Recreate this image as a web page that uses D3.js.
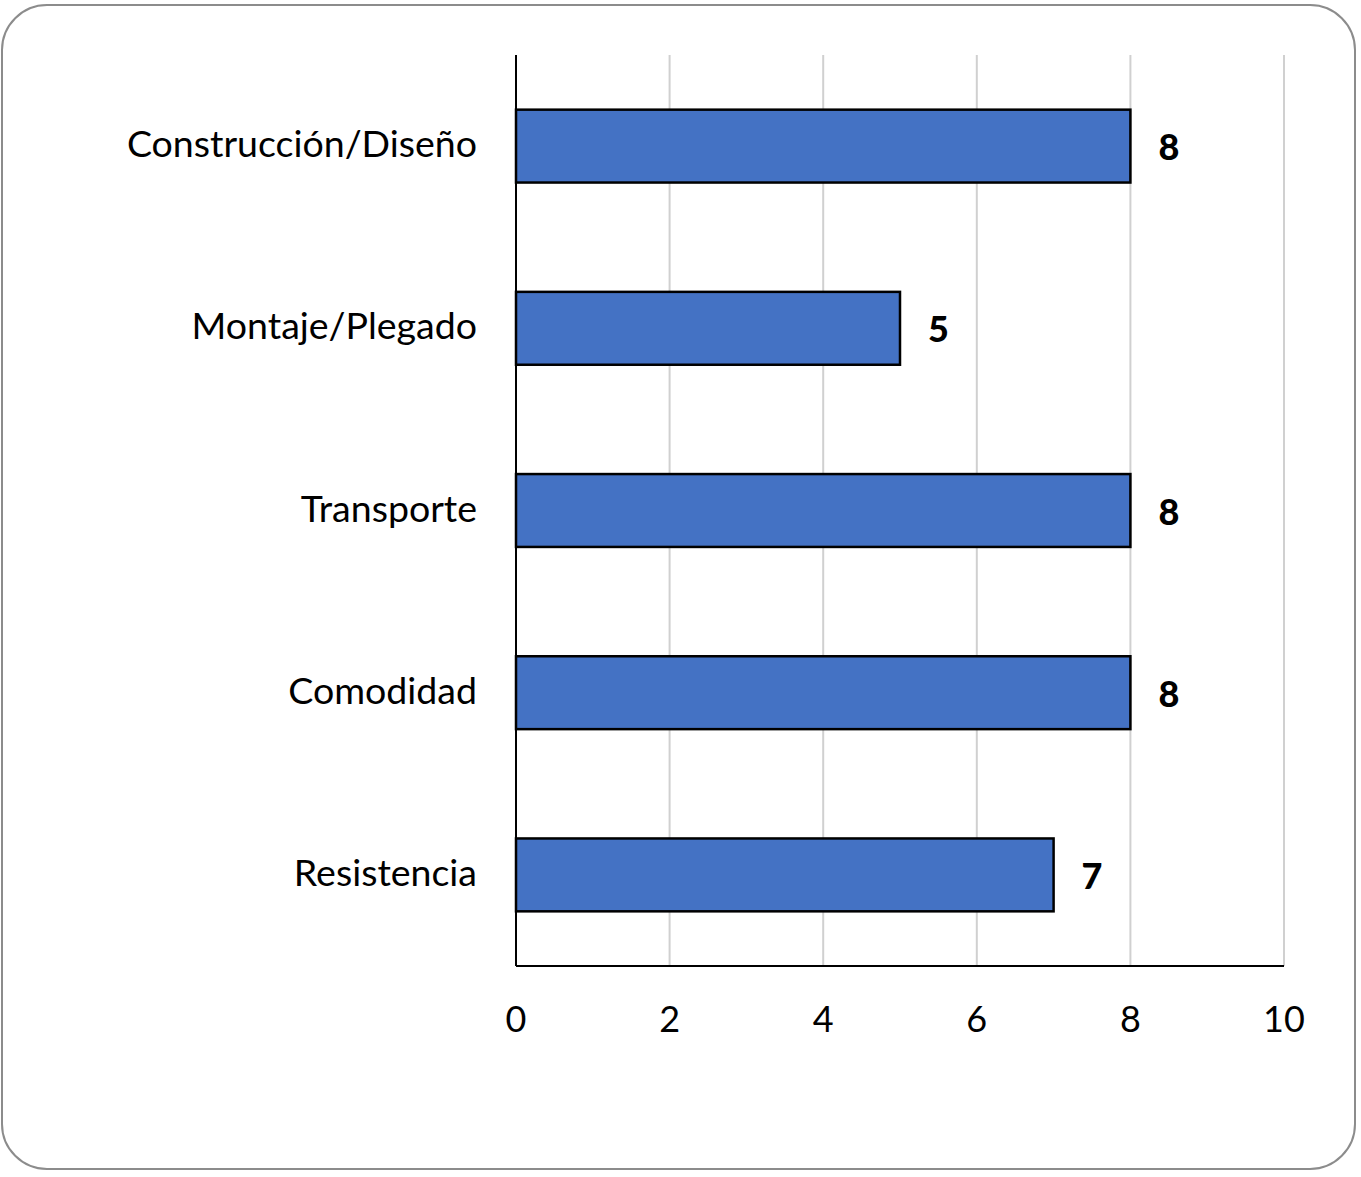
<!DOCTYPE html>
<html><head><meta charset="utf-8">
<script src="https://cdn.jsdelivr.net/npm/d3@7"></script>
<style>body{margin:0;background:#fff}svg{display:block}</style>
</head><body>
<script>
const categories = ["Construcción/Diseño","Montaje/Plegado","Transporte","Comodidad","Resistencia"];
const values = [8,5,8,8,7];
const ticks = [0,2,4,6,8,10];

(function(){
const W=1361,H=1177;
const svg=d3.select("body").append("svg").attr("width",W).attr("height",H);
svg.append("rect").attr("x",2).attr("y",5).attr("width",1353).attr("height",1164)
  .attr("rx",45).attr("ry",45).attr("fill","#fff").attr("stroke","#8c8c8c").attr("stroke-width",2);

const pL=516,pR=1284,pT=55,pB=966;
const x=d3.scaleLinear().domain([0,10]).range([pL,pR]);
const y=d3.scaleBand().domain(categories).range([pT,pB]).paddingInner(0.6).paddingOuter(0.3);
const font="Lato, 'Open Sans', sans-serif";

svg.append("g").selectAll("line").data(ticks.slice(1)).join("line")
  .attr("x1",d=>x(d)).attr("x2",d=>x(d)).attr("y1",pT).attr("y2",pB)
  .attr("stroke","#d0d0d0").attr("stroke-width",2);

svg.append("g").selectAll("rect").data(values).join("rect")
  .attr("x",x(0)).attr("y",(d,i)=>y(categories[i]))
  .attr("width",d=>x(d)-x(0)).attr("height",y.bandwidth())
  .attr("fill","#4472C4").attr("stroke","#000").attr("stroke-width",2.5);

svg.append("line").attr("x1",pL).attr("x2",pL).attr("y1",pT).attr("y2",pB).attr("stroke","#000").attr("stroke-width",2);
svg.append("line").attr("x1",pL).attr("x2",pR).attr("y1",pB).attr("y2",pB).attr("stroke","#000").attr("stroke-width",2);

svg.append("g").selectAll("text").data(ticks).join("text")
  .attr("x",d=>x(d)).attr("y",1032).attr("text-anchor","middle")
  .attr("font-family",font).attr("font-size",36).attr("fill","#000").text(d=>d);

svg.append("g").selectAll("text").data(categories).join("text")
  .attr("x",477).attr("y",d=>y(d)+y.bandwidth()/2+11).attr("text-anchor","end")
  .attr("font-family",font).attr("font-size",37.5).attr("fill","#000").text(d=>d);

svg.append("g").selectAll("text").data(values).join("text")
  .attr("x",d=>x(d)+28).attr("y",(d,i)=>y(categories[i])+y.bandwidth()/2+14)
  .attr("font-family",font).attr("font-size",36).attr("font-weight",900).attr("fill","#000").text(d=>d);
})();
</script>
</body></html>
